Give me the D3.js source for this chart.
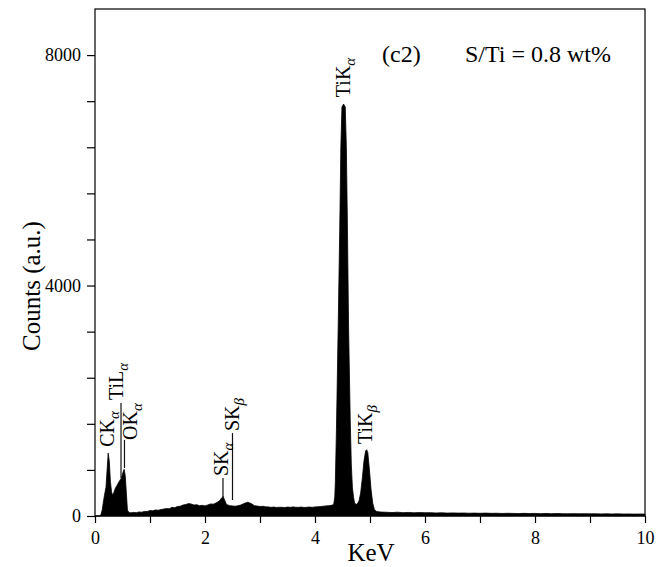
<!DOCTYPE html>
<html><head><meta charset="utf-8">
<script src="https://cdn.jsdelivr.net/npm/d3@7"></script>
<style>
html,body{margin:0;padding:0;background:#fff;}
svg{display:block;font-family:"Liberation Serif","Times New Roman",serif;}
</style></head>
<body>
<svg id="chart" width="667" height="567"></svg>
<script>
// ---- data ----
const energy = [0.00,0.10,0.13,0.17,0.20,0.22,0.24,0.26,0.28,0.30,0.32,0.34,0.37,0.40,0.44,0.48,0.51,0.53,0.55,0.57,0.59,
  0.62,0.65,0.70,0.75,0.80,0.85,0.90,0.95,1.00,1.05,1.10,1.15,1.20,1.25,1.30,1.35,1.40,1.45,1.50,1.55,1.60,1.65,1.70,1.75,1.80,1.85,1.90,1.95,
  2.00,2.05,2.10,2.15,2.20,2.26,2.30,2.33,2.36,2.39,2.45,2.50,2.55,2.60,2.65,2.72,2.78,2.84,2.90,2.95,3.00,3.05,3.10,3.15,3.20,3.25,3.30,3.35,
  3.40,3.45,3.50,3.55,3.60,3.65,3.70,3.75,3.80,3.85,3.90,3.95,4.00,4.05,4.10,4.15,4.20,4.25,4.30,4.34,4.36,4.37,4.39,4.42,4.45,4.47,4.49,
  4.52,4.55,4.57,4.59,4.61,4.64,4.66,4.68,4.70,4.72,4.76,4.80,4.83,4.86,4.89,4.92,4.94,4.96,4.99,5.02,5.05,5.08,5.12,5.15,5.20,5.30,5.40,
  5.50,5.60,5.70,5.80,5.90,6.00,6.10,6.20,6.30,6.40,6.50,6.60,6.70,6.80,6.90,7.00,7.10,7.20,7.30,7.40,7.50,7.60,7.70,7.80,7.90,8.00,8.10,
  8.20,8.30,8.40,8.50,8.60,8.70,8.80,8.90,9.00,9.10,9.20,9.30,9.40,9.50,9.60,9.70,9.80,9.90,10.00];
const counts = [0,0,100,350,500,800,1090,950,600,420,360,400,480,530,600,660,760,810,700,400,100,
  60,55,62,58,70,66,80,78,95,90,105,100,112,120,130,125,150,145,165,170,190,200,215,208,190,195,180,185,
  175,192,210,205,225,260,310,340,270,200,180,175,170,178,190,220,240,215,180,172,165,168,160,158,150,155,148,152,
  150,146,155,150,158,152,150,155,148,152,155,150,158,160,165,170,175,180,185,200,330,600,1500,3200,5000,6400,7100,
  7150,7100,6400,5000,3300,1700,900,500,330,220,200,260,400,650,950,1130,1150,1100,800,450,220,110,80,75,68,65,60,
  66,58,62,55,60,56,58,52,56,50,54,50,52,48,50,47,50,46,48,44,47,45,42,46,43,45,41,
  44,40,43,40,38,41,38,40,37,39,36,38,35,37,34,36,33,35,33];

const xTicks = [0,1,2,3,4,5,6,7,8,9,10];
const xTickLabels = ["0","","2","","4","","6","","8","","10"];
const yTicks = [0,800,1600,2400,3200,4000,4800,5600,6400,7200,8000];
const yTickLabels = ["0","","","","","4000","","","","","8000"];

// peak labels: name, subscript, energy of label baseline, count where label starts
const peakNames = ["CK","TiL","OK","SK","SK","TiK","TiK"];
const peakSubs  = ["α","α","α","α","β","α","β"];
const peakLabelE = [0.345,0.509,0.764,2.418,2.627,4.636,5.036];
const peakLabelC = [1200,2013,1319,694,1475,7270,1249];
// leader lines: energy, top count, bottom count
const leaderE   = [0.473,0.536,2.327,2.500];
const leaderTop = [1961,1319,659,1440];
const leaderBot = [659,833,330,278];

const xLabel = "KeV";
const yLabel = "Counts (a.u.)";
const panelTag = "(c2)";
const panelNote = "S/Ti = 0.8 wt%";

// ---- chart ----
const svg = d3.select("#chart");
const L = 95, R = 645, T = 9, B = 516;
const x = d3.scaleLinear().domain([0,10]).range([L,R]);
const y = d3.scaleLinear().domain([0,8800]).range([B,T]);

const pts = energy.map((e,i)=>({e, c:counts[i]}));
const area = d3.area().x(d=>x(d.e)).y0(y(0)).y1(d=>y(d.c)).curve(d3.curveLinear);
svg.append("path").datum(pts).attr("d",area).attr("fill","#000").attr("stroke","#000").attr("stroke-width",0.8);

// frame
svg.append("rect").attr("x",L).attr("y",T).attr("width",R-L).attr("height",B-T)
  .attr("fill","none").attr("stroke","#000").attr("stroke-width",1.2);

// axes
const xAxis = d3.axisBottom(x).tickValues(xTicks).tickSize(7).tickFormat((d,i)=>xTickLabels[i]);
const gx = svg.append("g").attr("transform",`translate(0,${B})`).call(xAxis);
gx.select(".domain").remove();
gx.selectAll("line").attr("stroke","#000").attr("stroke-width",1.2);
gx.selectAll("text").attr("font-size",18).attr("font-family","Liberation Serif").attr("fill","#000").attr("dy","1.0em");

const yAxis = d3.axisLeft(y).tickValues(yTicks).tickSize(8).tickFormat((d,i)=>yTickLabels[i]);
const gy = svg.append("g").attr("transform",`translate(${L},0)`).call(yAxis);
gy.select(".domain").remove();
gy.selectAll("line").attr("stroke","#000").attr("stroke-width",1.2);
gy.selectAll("text").attr("font-size",18).attr("font-family","Liberation Serif").attr("fill","#000").attr("x",-14);

// axis titles
svg.append("text").attr("x",371).attr("y",561).attr("text-anchor","middle")
  .attr("font-size",25).text(xLabel);
svg.append("text").attr("transform",`translate(40,286) rotate(-90)`).attr("text-anchor","middle")
  .attr("font-size",25).text(yLabel);

// panel annotations
svg.append("text").attr("x",382).attr("y",62).attr("font-size",24).text(panelTag);
svg.append("text").attr("x",465).attr("y",62).attr("font-size",24).text(panelNote);

// leader lines
leaderE.forEach((e,i)=>{
  svg.append("line").attr("x1",x(e)).attr("x2",x(e)).attr("y1",y(leaderTop[i])).attr("y2",y(leaderBot[i]))
    .attr("stroke","#111").attr("stroke-width",1.2);
});

// peak labels
peakNames.forEach((n,i)=>{
  const t = svg.append("text")
    .attr("transform",`translate(${x(peakLabelE[i])},${y(peakLabelC[i])}) rotate(-90)`)
    .attr("font-size",20);
  t.append("tspan").text(n);
  t.append("tspan").attr("font-size",15).attr("font-style","italic").attr("dy",5).text(peakSubs[i]);
});
</script>
</body></html>
